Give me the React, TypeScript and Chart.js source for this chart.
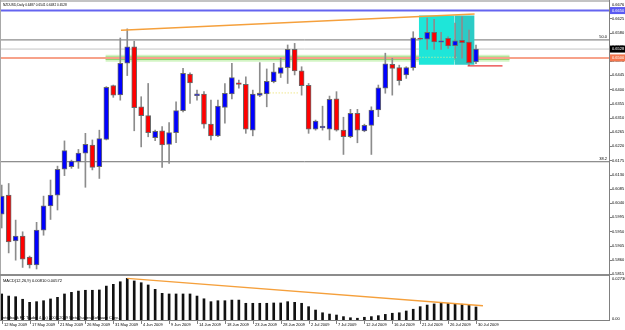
import { useEffect, useRef } from "react";
import { Chart, registerables } from "chart.js";

Chart.register(...registerables);

const title = "NZDUSD,Daily 0.6487 0.6541 0.6482 0.6528";
const macdTitle = "MACD(12,26,9) 0.00810 0.00572";
const copyright = "Interbank FX Trader 4, (c) 2001-2009 MetaQuotes Software Corp.";

const dateTicks = [
  "12 May 2009", "17 May 2009", "21 May 2009", "26 May 2009", "31 May 2009", "4 Jun 2009",
  "9 Jun 2009", "14 Jun 2009", "18 Jun 2009", "23 Jun 2009", "28 Jun 2009", "2 Jul 2009",
  "7 Jul 2009", "12 Jul 2009", "16 Jul 2009", "21 Jul 2009", "26 Jul 2009", "30 Jul 2009",
];
const barsPerDateTick = 4;

const opens = [
  0.6005, 0.6065, 0.5920, 0.5935, 0.5869, 0.5844, 0.5954, 0.6031, 0.6065, 0.6147,
  0.6155, 0.6171, 0.6198, 0.6224, 0.6155, 0.6242, 0.6412, 0.6383, 0.6483, 0.6535,
  0.6345, 0.6317, 0.6247, 0.6269, 0.6226, 0.6263, 0.6333, 0.6449, 0.6380, 0.6385,
  0.6290, 0.6253, 0.6343, 0.6386, 0.6421, 0.6416, 0.6271, 0.6381, 0.6386, 0.6425,
  0.6451, 0.6469, 0.6527, 0.6459, 0.6413, 0.6274, 0.6278, 0.6274, 0.6370, 0.6271,
  0.6250, 0.6324, 0.6269, 0.6286, 0.6335, 0.6404, 0.6480, 0.6469, 0.6446, 0.6469,
  0.6562, 0.6559, 0.6581, 0.6550, 0.6562, 0.6539, 0.6556, 0.6550, 0.6487,
];
const highs = [
  0.6097, 0.6102, 0.5986, 0.5949, 0.5872, 0.5979, 0.6062, 0.6113, 0.6157, 0.6237,
  0.6176, 0.6210, 0.6261, 0.6240, 0.6271, 0.6409, 0.6414, 0.6563, 0.6592, 0.6553,
  0.6377, 0.6419, 0.6271, 0.6282, 0.6295, 0.6361, 0.6467, 0.6453, 0.6398, 0.6393,
  0.6366, 0.6366, 0.6419, 0.6483, 0.6430, 0.6440, 0.6398, 0.6485, 0.6465, 0.6483,
  0.6499, 0.6541, 0.6546, 0.6472, 0.6419, 0.6303, 0.6347, 0.6379, 0.6393, 0.6312,
  0.6337, 0.6337, 0.6290, 0.6345, 0.6414, 0.6515, 0.6499, 0.6477, 0.6472, 0.6583,
  0.6563, 0.6626, 0.6622, 0.6581, 0.6567, 0.6610, 0.6630, 0.6588, 0.6541,
];
const lows = [
  0.5961, 0.5882, 0.5859, 0.5836, 0.5834, 0.5831, 0.5938, 0.5988, 0.6018, 0.6127,
  0.6150, 0.6150, 0.6090, 0.6145, 0.6118, 0.6240, 0.6375, 0.6366, 0.6444, 0.6269,
  0.6218, 0.6250, 0.6238, 0.6153, 0.6166, 0.6231, 0.6329, 0.6356, 0.6366, 0.6277,
  0.6240, 0.6250, 0.6293, 0.6370, 0.6404, 0.6261, 0.6253, 0.6377, 0.6345, 0.6421,
  0.6438, 0.6419, 0.6446, 0.6382, 0.6261, 0.6271, 0.6271, 0.6240, 0.6268, 0.6194,
  0.6247, 0.6231, 0.6266, 0.6194, 0.6314, 0.6388, 0.6382, 0.6414, 0.6435, 0.6461,
  0.6557, 0.6527, 0.6527, 0.6527, 0.6530, 0.6499, 0.6499, 0.6475, 0.6482,
];
const closes = [
  0.6062, 0.5917, 0.5935, 0.5862, 0.5844, 0.5954, 0.6031, 0.6065, 0.6147, 0.6206,
  0.6173, 0.6198, 0.6226, 0.6153, 0.6244, 0.6407, 0.6382, 0.6483, 0.6535, 0.6342,
  0.6317, 0.6263, 0.6267, 0.6224, 0.6263, 0.6333, 0.6451, 0.6421, 0.6386, 0.6290,
  0.6253, 0.6347, 0.6388, 0.6438, 0.6416, 0.6274, 0.6385, 0.6388, 0.6426, 0.6456,
  0.6469, 0.6527, 0.6459, 0.6412, 0.6274, 0.6300, 0.6284, 0.6369, 0.6271, 0.6250,
  0.6324, 0.6271, 0.6286, 0.6335, 0.6405, 0.6481, 0.6467, 0.6428, 0.6469, 0.6564,
  0.6559, 0.6581, 0.6551, 0.6554, 0.6538, 0.6554, 0.6548, 0.6485, 0.6528,
];
const macd = [
  0.0162, 0.0149, 0.0145, 0.0129, 0.0110, 0.0114, 0.0120, 0.0131, 0.0141, 0.0162,
  0.0172, 0.0180, 0.0185, 0.0185, 0.0187, 0.0211, 0.0222, 0.0238, 0.0259, 0.0243,
  0.0232, 0.0218, 0.0191, 0.0166, 0.0162, 0.0162, 0.0162, 0.0162, 0.0149, 0.0132,
  0.0114, 0.0120, 0.0120, 0.0124, 0.0124, 0.0104, 0.0104, 0.0104, 0.0104, 0.0106,
  0.0106, 0.0114, 0.0110, 0.0104, 0.0083, 0.0062, 0.0045, 0.0037, 0.0031, 0.0021,
  0.0014, 0.0011, 0.0017, 0.0021, 0.0027, 0.0035, 0.0042, 0.0045, 0.0056, 0.0067,
  0.0083, 0.0093, 0.0100, 0.0104, 0.0104, 0.0100, 0.0098, 0.0093, 0.0081,
];

const priceTicks = [
  0.6625, 0.6580, 0.6535, 0.6490, 0.6445, 0.6400, 0.6355, 0.6310, 0.6265, 0.6220,
  0.6175, 0.6130, 0.6085, 0.6040, 0.5995, 0.5950, 0.5905, 0.5860, 0.5815,
];
const priceTopLabel = "0.6676";
const macdTopLabel = "0.02736";
const macdBottomLabel = "0.00";

const priceMin = 0.5812;
const priceMax = 0.6674;
const macdMin = 0;
const macdMax = 0.028;
const xMin = -0.244;
const xMax = 87.07;

const levelBlue = 0.665;
const levelFib50 = 0.6557;
const levelBid = 0.6528;
const levelSalmon = 0.65;
const levelGreen = 0.6499;
const levelFib382 = 0.6171;
const greenRange = [14.9, 72.8];
const trendPriceX = [17.1, 67.8];
const trendPriceY = [0.6588, 0.6639];
const trendMacdX = [18, 69];
const trendMacdY = [0.0259, 0.0089];
const boxX = [59.8, 64.9, 67.8];
const boxTop = 0.6634;
const boxBottom = 0.6478;
const redLineX = [66.8, 71.8];
const redLineY = 0.6475;
const dotLine1X = [36.7, 42.7];
const dotLine1Y = 0.6389;
const dotLine2X = [59.9, 65.2];
const dotLine2Y = 0.6502;

const FONT = '"Liberation Sans", Arial, sans-serif';

function seg(x0: number, x1: number, y0: number, y1: number) {
  return [
    { x: x0, y: y0 },
    { x: x1, y: y1 },
  ];
}

const lineBase: any = {
  type: "line",
  pointRadius: 0,
  pointHoverRadius: 0,
  tension: 0,
  fill: false,
  clip: 0,
  xAxisID: "x",
  yAxisID: "y",
};

const panelPlugin: any = {
  id: "mt4panel",
  beforeDraw(chart: any) {
    const { ctx, width, height } = chart;
    ctx.save();
    ctx.fillStyle = "#ffffff";
    ctx.fillRect(0, 0, width, height);
    ctx.restore();
  },
  afterDraw(chart: any) {
    const { ctx, chartArea } = chart;
    const xs = chart.scales.x;
    const ys = chart.scales.y;
    const y2 = chart.scales.y2;
    const R = Math.round(chartArea.right);
    const B = Math.round(chartArea.bottom);
    ctx.save();
    // frame
    ctx.fillStyle = "#c4c4c4";
    ctx.fillRect(0, 0, R, 2);
    ctx.fillStyle = "#a8a8a8";
    ctx.fillRect(0, 0, 1, B);
    ctx.fillStyle = "#8c8c8c";
    ctx.fillRect(0, Math.round(ys.bottom) - 1, R, 2);
    ctx.fillStyle = "#808080";
    ctx.fillRect(0, B, R + 1, 1);
    ctx.fillRect(R, 0, 1, B + 1);

    ctx.textBaseline = "middle";
    ctx.textAlign = "left";
    ctx.fillStyle = "#000";

    // titles
    ctx.font = `3.2px ${FONT}`;
    ctx.fillText(title, 3, ys.top + 2.5);
    ctx.font = `4px ${FONT}`;
    ctx.fillText(macdTitle, 3, y2.top + 5.5);
    ctx.fillText(copyright, 2, B - 2);

    // fib texts
    ctx.textAlign = "right";
    ctx.textBaseline = "bottom";
    ctx.fillText("50.0", R - 2, ys.getPixelForValue(levelFib50) - 1);
    ctx.fillText("38.2", R - 2, ys.getPixelForValue(levelFib382) - 0.5);

    // price axis labels
    ctx.textAlign = "left";
    ctx.textBaseline = "middle";
    ctx.fillStyle = "#000";
    for (const v of priceTicks) {
      const py = ys.getPixelForValue(v);
      ctx.fillStyle = "#808080";
      ctx.fillRect(R + 1, Math.round(py), 2, 1);
      ctx.fillStyle = "#000";
      ctx.fillText(v.toFixed(4), R + 3, py);
    }
    ctx.fillText(priceTopLabel, R + 3, ys.top + 1.5);
    ctx.fillText(macdTopLabel, R + 3, y2.top + 3.5);
    ctx.fillText(macdBottomLabel, R + 3, y2.bottom - 1);

    const box = (v: number, bg: string) => {
      const py = ys.getPixelForValue(v);
      ctx.fillStyle = bg;
      ctx.fillRect(R + 1, py - 3.5, 625 - R, 7);
      ctx.fillStyle = "#fff";
      ctx.fillText(v.toFixed(4), R + 3, py);
    };
    box(levelBlue, "#5a5af2");
    box(levelBid, "#000000");
    box(levelSalmon, "#f4774e");

    // date axis
    ctx.fillStyle = "#000";
    dateTicks.forEach((t, k) => {
      const px = Math.round(xs.getPixelForValue(k * barsPerDateTick));
      ctx.fillStyle = "#808080";
      ctx.fillRect(px, B + 1, 1, 3);
      ctx.fillStyle = "#000";
      ctx.fillText(t, px + 2, B + 5.3);
    });
    ctx.restore();
  },
};

export default function App() {
  const ref = useRef<HTMLCanvasElement | null>(null);
  useEffect(() => {
    const canvas = ref.current;
    if (!canvas) return;
    const idx = opens.map((_, i) => i);
    const chart = new Chart(canvas, {
      type: "bar",
      data: {
        datasets: [
          { ...lineBase, data: seg(greenRange[0], greenRange[1], levelGreen, levelGreen), borderColor: "#d3f4c4", borderWidth: 7, order: 21 },
          { ...lineBase, data: seg(greenRange[0], greenRange[1], levelGreen, levelGreen), borderColor: "#8ed470", borderWidth: 3.5, order: 20 },
          { ...lineBase, data: seg(xMin, xMax, levelSalmon, levelSalmon), borderColor: "#f7a28a", borderWidth: 2, order: 19 },
          { ...lineBase, data: seg(xMin, xMax, levelBlue, levelBlue), borderColor: "#6464f0", borderWidth: 2, order: 19 },
          { ...lineBase, data: seg(xMin, xMax, levelFib50, levelFib50), borderColor: "#707070", borderWidth: 1, order: 19 },
          { ...lineBase, data: seg(xMin, xMax, levelBid, levelBid), borderColor: "#c4c4c4", borderWidth: 1, order: 19 },
          { ...lineBase, data: seg(xMin, xMax, levelFib382, levelFib382), borderColor: "#707070", borderWidth: 1, order: 19 },
          { ...lineBase, data: seg(boxX[0], boxX[1], boxTop, boxTop), fill: { value: boxBottom }, backgroundColor: "#1ee6d9", borderWidth: 0, order: 16 },
          { ...lineBase, data: seg(boxX[1], boxX[2], boxTop, boxTop), fill: { value: boxBottom }, backgroundColor: "#2ccbc6", borderWidth: 0, order: 16 },
          { ...lineBase, data: seg(dotLine1X[0], dotLine1X[1], dotLine1Y, dotLine1Y), borderColor: "#e8dc5a", borderWidth: 1, borderDash: [1, 2], order: 15 },
          { ...lineBase, data: seg(dotLine2X[0], dotLine2X[1], dotLine2Y, dotLine2Y), borderColor: "#f2ee8a", borderWidth: 1, borderDash: [1, 2], order: 15 },
          {
            type: "bar",
            data: idx.map((i) => ({ x: i, y: [lows[i], highs[i]] })),
            backgroundColor: "#8c8c8c",
            barThickness: 1,
            grouped: false,
            xAxisID: "x",
            yAxisID: "y",
            order: 13,
          },
          {
            type: "bar",
            data: idx.map((i) => ({ x: i, y: [opens[i], closes[i]] })),
            backgroundColor: idx.map((i) => (closes[i] >= opens[i] ? "#0000ff" : "#ff0000")),
            borderColor: "#6a6a6a",
            borderWidth: 1,
            borderSkipped: false,
            minBarLength: 1,
            barThickness: 5,
            grouped: false,
            xAxisID: "x",
            yAxisID: "y",
            order: 12,
          },
          {
            type: "bar",
            data: idx.map((i) => ({ x: i, y: macd[i] })),
            backgroundColor: "#111111",
            barThickness: 2,
            grouped: false,
            xAxisID: "x",
            yAxisID: "y2",
            order: 12,
          },
          { ...lineBase, data: seg(redLineX[0], redLineX[1], redLineY, redLineY), borderColor: "#e83a3a", borderWidth: 1.2, order: 6 },
          { ...lineBase, data: seg(trendPriceX[0], trendPriceX[1], trendPriceY[0], trendPriceY[1]), borderColor: "#f5a03c", borderWidth: 1.5, order: 5 },
          { ...lineBase, yAxisID: "y2", data: seg(trendMacdX[0], trendMacdX[1], trendMacdY[0], trendMacdY[1]), borderColor: "#f5a03c", borderWidth: 1.5, order: 5 },
        ] as any,
      },
      options: {
        animation: false,
        responsive: false,
        maintainAspectRatio: false,
        events: [],
        layout: { padding: { left: 0, right: 16, top: 3, bottom: 10 } },
        plugins: { legend: { display: false }, tooltip: { enabled: false } },
        scales: {
          x: { type: "linear", min: xMin, max: xMax, offset: false, display: false },
          y: { type: "linear", position: "right", min: priceMin, max: priceMax, beginAtZero: false, display: false, stack: "panes", stackWeight: 272 },
          y2: { type: "linear", position: "right", min: macdMin, max: macdMax, beginAtZero: false, display: false, stack: "panes", stackWeight: 45 },
        },
      } as any,
      plugins: [panelPlugin],
    });
    return () => chart.destroy();
  }, []);
  return (
    <div style={{ position: "fixed", left: 0, top: 0, width: 625, height: 330, background: "#fff" }}>
      <canvas ref={ref} width={625} height={330} style={{ display: "block", width: 625, height: 330 }} />
    </div>
  );
}
